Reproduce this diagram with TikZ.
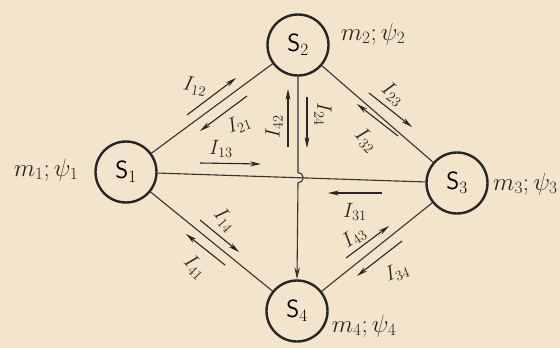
\documentclass[tikz,border=0pt]{standalone}
\usetikzlibrary{arrows.meta}
\begin{document}
\begin{tikzpicture}[x=1pt,y=-1pt,
  station/.style={circle,draw=black!85,line width=2.4pt,minimum size=61pt,inner sep=0pt,font=\fontsize{26}{28}\selectfont},
  link/.style={draw=black!80,line width=1.1pt},
  flow/.style={draw=black!85,line width=1.1pt,-{Stealth[length=11pt,width=5pt]}},
  lbl/.style={font=\fontsize{22}{24}\selectfont,text=black!85,inner sep=0pt},
  mlbl/.style={font=\fontsize{23}{25}\selectfont,text=black!85,inner sep=0pt}]
\fill[color={rgb,255:red,243;green,229;blue,203}] (0,0) rectangle (560,348);
\useasboundingbox (0,0) rectangle (560,348);

\node[station] (s1) at (126,172) {$\mathsf{S}_1$};
\node[station] (s2) at (298,45) {$\mathsf{S}_2$};
\node[station] (s3) at (457,183) {$\mathsf{S}_3$};
\node[station] (s4) at (297,311) {$\mathsf{S}_4$};

% links
\draw[link] (s1) -- (s2);
\draw[link] (s2) -- (s3);
\draw[link] (s1) -- (s4);
\draw[link] (s3) -- (s4);
\draw[link] (s1) -- (s3);
\coordinate (h1) at (298,172.5);
\draw[link,-{Stealth[length=12pt,width=5.5pt]}] (s2.south) -- (h1) arc[start angle=90,end angle=-90,radius=5.2pt] -- (s4.north);

% flow arrows
\coordinate (a12s) at (187,115); \coordinate (a12e) at (236,78);
\coordinate (a21s) at (247,96);  \coordinate (a21e) at (200,131);
\coordinate (a13s) at (200,163); \coordinate (a13e) at (261,164);
\coordinate (a42s) at (288,147); \coordinate (a42e) at (288,89);
\coordinate (a24s) at (307,97);  \coordinate (a24e) at (307,148);
\coordinate (a23s) at (369,93);  \coordinate (a23e) at (412,127);
\coordinate (a32s) at (398,136); \coordinate (a32e) at (357,104);
\coordinate (a31s) at (382,193); \coordinate (a31e) at (328,193);
\coordinate (a43s) at (346,258); \coordinate (a43e) at (389,226);
\coordinate (a34s) at (402,241); \coordinate (a34e) at (357,276);
\coordinate (a14s) at (200,220); \coordinate (a14e) at (239,252);
\coordinate (a41s) at (225,265); \coordinate (a41e) at (186,234);
\foreach \p in {12,21,13,42,24,23,32,31,43,34,14,41}
  \draw[flow] (a\p s) -- (a\p e);

% flow labels
\node[lbl,rotate=-10] (l12) at (195,86) {$I_{12}$};
\node[lbl,rotate=20] (l21) at (239,124) {$I_{21}$};
\node[lbl] (l13) at (221,149) {$I_{13}$};
\node[lbl,rotate=90] (l42) at (274,127) {$I_{42}$};
\node[lbl,rotate=-90] (l24) at (323,114) {$I_{24}$};
\node[lbl,rotate=-40] (l23) at (393,94) {$I_{23}$};
\node[lbl,rotate=-45] (l32) at (366,140) {$I_{32}$};
\node[lbl] (l31) at (355,212) {$I_{31}$};
\node[lbl,rotate=35] (l43) at (354,237) {$I_{43}$};
\node[lbl,rotate=20] (l34) at (397,272) {$I_{34}$};
\node[lbl,rotate=-50] (l14) at (225,220) {$I_{14}$};
\node[lbl,rotate=-45] (l41) at (195,267) {$I_{41}$};

% station labels
\node[mlbl] (m1) at (46,170) {$m_1;\psi_1$};
\node[mlbl] (m2) at (373,34) {$m_2;\psi_2$};
\node[mlbl,anchor=west] (m3) at (493,184) {$m_3;\psi_3$};
\node[mlbl] (m4) at (364,326) {$m_4;\psi_4$};
\end{tikzpicture}
\end{document}
